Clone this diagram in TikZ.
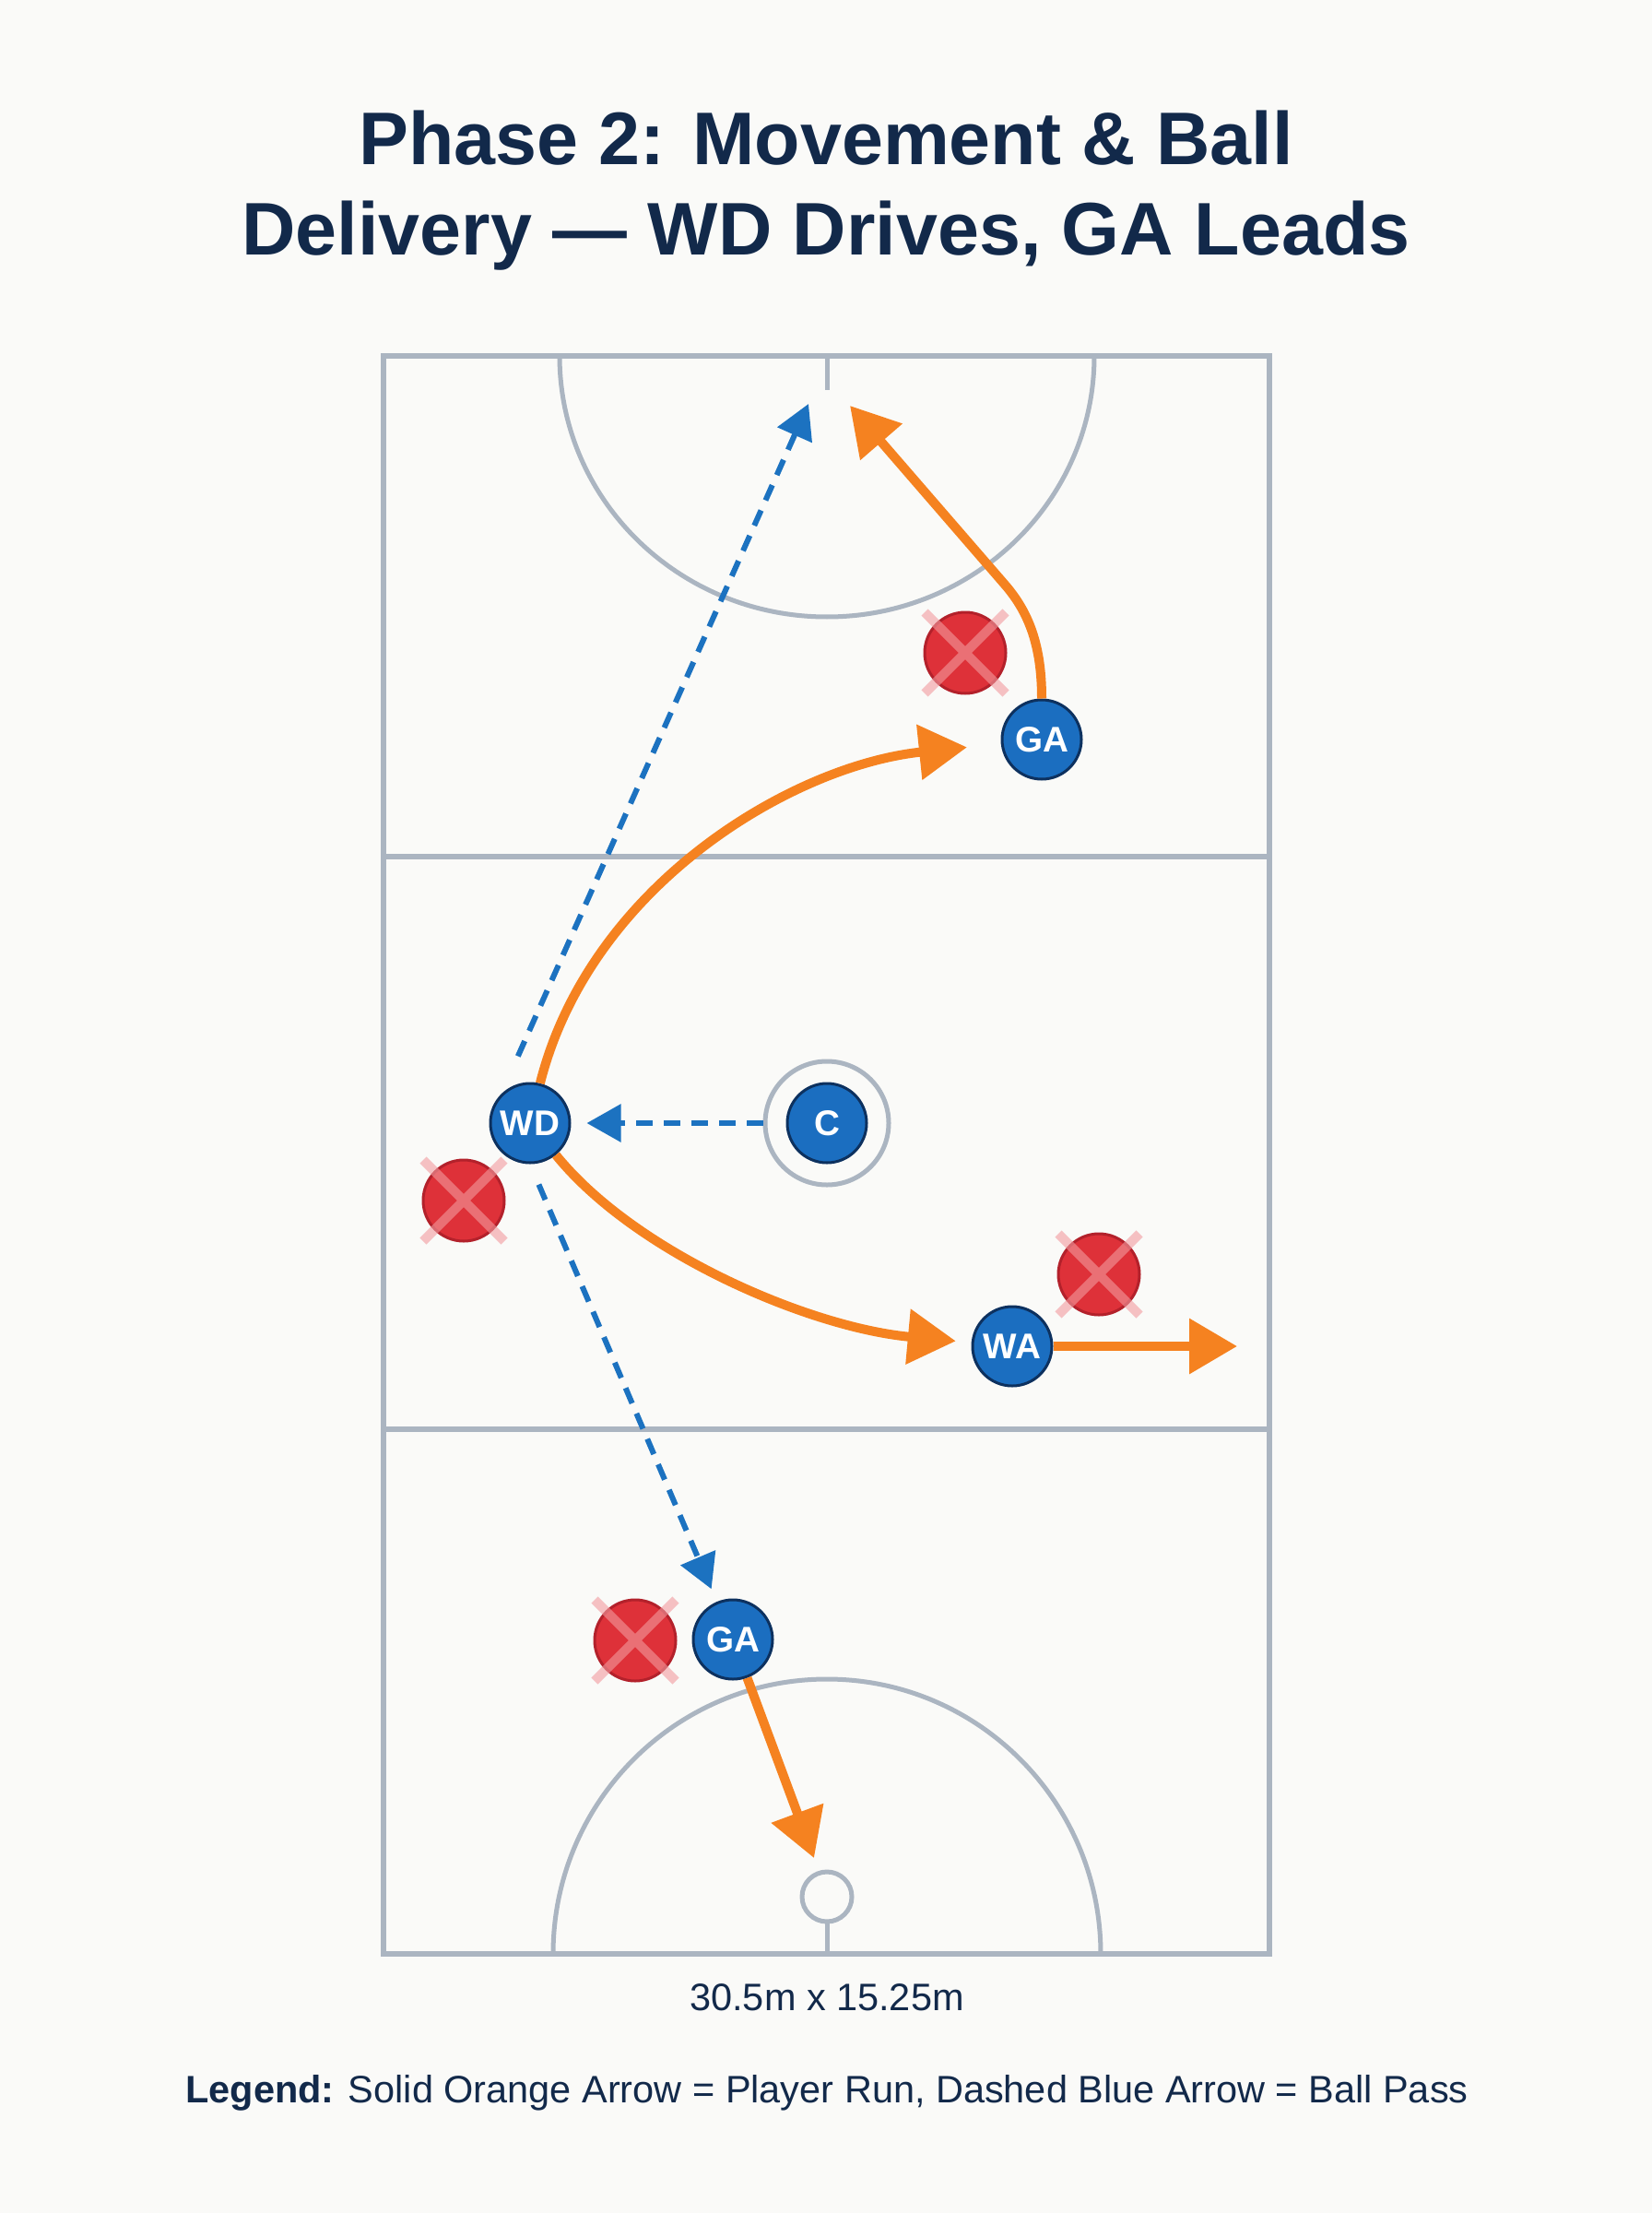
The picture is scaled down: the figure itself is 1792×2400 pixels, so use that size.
\documentclass[tikz,border=0pt]{standalone}
\usepackage{fontspec}
\setmainfont{Liberation Sans}
\usetikzlibrary{arrows.meta}

\definecolor{bgcol}{HTML}{FAFAF8}
\definecolor{courtgray}{HTML}{ABB5C1}
\definecolor{navy}{HTML}{12294A}
\definecolor{playerblue}{HTML}{1B6EC0}
\definecolor{playeredge}{HTML}{0D315F}
\definecolor{defred}{HTML}{DE3139}
\definecolor{defedge}{HTML}{B3212B}
\definecolor{crosspink}{HTML}{F29A9E}
\definecolor{runorange}{HTML}{F58220}
\definecolor{passblue}{HTML}{1C72C0}

\begin{document}
\begin{tikzpicture}[
                x=0.1mm, y=-0.1mm,
                every node/.append style={inner sep=0pt},
                courtline/.style={draw=courtgray, line width=0.6mm},
                player/.style={circle, draw=playeredge, fill=playerblue, line width=0.3mm,
                    minimum size=8.6mm, text=white, font=\bfseries\fontsize{11}{11}\selectfont},
                defender/.style={circle, draw=defedge, fill=defred, line width=0.3mm, minimum size=8.8mm},
                cross/.style={draw=crosspink, line width=1mm, opacity=0.6},
                run/.style={draw=runorange, line width=1mm, -{Triangle[length=5.2mm,width=5.8mm]}},
                pass/.style={draw=passblue, line width=0.6mm, dash pattern=on 1.8mm off 1.2mm,
                    -{Triangle[length=3.7mm,width=4mm]}},
                titletext/.style={anchor=base, text=navy, font=\bfseries\fontsize{23}{28}\selectfont},
                smalltext/.style={anchor=base, text=navy, font=\fontsize{11.8}{14}\selectfont}
            ]
                \fill[bgcol] (0,0) rectangle (1792,2400);
                \useasboundingbox (0,0) rectangle (1792,2400);

                \node (title1) [titletext] at (896,179) {Phase 2: Movement \& Ball};
                \node (title2) [titletext] at (896,277) {Delivery — WD Drives, GA Leads};

                % court
                \draw[courtline] (416,386) rectangle (1377,2119);
                \draw[courtline] (416,929) -- (1377,929);
                \draw[courtline] (416,1550) -- (1377,1550);
                \draw[courtline, line width=0.5mm] (607,386) arc[start angle=180, end angle=360, x radius=29mm, y radius=28.3mm];
                \draw[courtline, line width=0.5mm] (897,386) -- (897,423);
                \draw[courtline, line width=0.5mm] (600,2119) arc[start angle=180, end angle=0, x radius=29.7mm, y radius=29.8mm];
                \draw[courtline, line width=0.5mm] (897,2057) circle[radius=2.7mm];
                \draw[courtline, line width=0.5mm] (897,2084) -- (897,2119);
                \node (cring) [circle, draw=courtgray, line width=0.5mm, minimum size=13.4mm] at (897,1218) {};

                % players
                \node (wd)    [player] at (575,1218)  {WD};
                \node (c)     [player] at (897,1218)  {C};
                \node (wa)    [player] at (1098,1460) {WA};
                \node (gatop) [player] at (1130,802)  {GA};
                \node (gabot) [player] at (795,1778)  {GA};

                \node (d1) [defender] at (1047,708)  {};
                \node (d2) [defender] at (503,1302)  {};
                \node (d3) [defender] at (1192,1382) {};
                \node (d4) [defender] at (689,1779)  {};
                \foreach \d in {d1,d2,d3,d4}
                    \draw[cross] ([shift={(-44,-44)}]\d.center) -- ([shift={(44,44)}]\d.center)
                                 ([shift={(44,-44)}]\d.center) -- ([shift={(-44,44)}]\d.center);

                \coordinate (shot)   at (922,440);
                \coordinate (passtop) at (877,438);
                \coordinate (wide)   at (1342,1460);
                \coordinate (post)   at (883,2015);

                % runs
                \draw[run, shorten >=3.7mm] (wd) .. controls (640,960) and (860,830) .. (gatop);
                \draw[run, shorten >=1.7mm] (wd) .. controls (690,1360) and (880,1440) .. (wa);
                \draw[run] (wa) -- (wide);
                \draw[run] (gatop) .. controls (1130,700) and (1116,664) .. (1090,634) -- (shot);
                \draw[run] (gabot) -- (post);

                % passes
                \draw[pass, shorten >=1.7mm] (cring) -- (wd);
                \draw[pass, shorten <=4.5mm] (wd.north west) -- (passtop);
                \draw[pass, shorten <=2.4mm, shorten >=1.5mm] (wd.south) -- (gabot);

                \node (dims) [smalltext] at (897,2180) {30.5m x 15.25m};
                \node (legend) [smalltext] at (897,2280) {\textbf{Legend:} Solid Orange Arrow = Player Run, Dashed Blue Arrow = Ball Pass};
            \end{tikzpicture}
\end{document}
